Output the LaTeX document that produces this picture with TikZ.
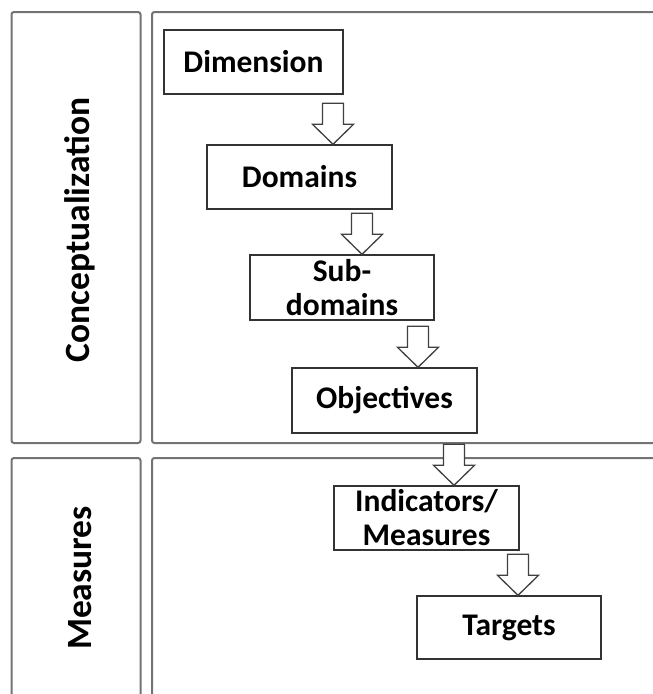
\documentclass[tikz,border=0pt]{standalone}
\usepackage{fontspec}
\setmainfont{Carlito}
\begin{document}
\begin{tikzpicture}[x=1pt,y=-1pt,
  panel/.style={draw=black!55,line width=2pt,rounded corners=2.5pt},
  stagebox/.style={draw=black!80,line width=1.4pt,fill=white,inner sep=0pt,
    align=center,font=\bfseries\fontsize{31.5}{34}\selectfont},
  paneltext/.style={rotate=90,inner sep=0pt,font=\bfseries\fontsize{35.5}{40}\selectfont},
  blockarrow/.pic={
    \draw[draw=black!75,line width=1.3pt,fill=white,line join=miter]
      (0,0) -- (-20.5,-20) -- (-10.5,-20) -- (-10.5,-41)
      -- (10.5,-41) -- (10.5,-20) -- (20.5,-20) -- cycle;
  }]
\useasboundingbox (0,0) rectangle (653,694);
\begin{scope}
\clip (0,0) rectangle (653,694);
% two horizontal bands, each with a label column and a content column
\draw[panel] (11.5,12) rectangle (140.5,443);
\draw[panel] (152,12) rectangle (680,443);
\draw[panel] (11.5,458) rectangle (140.5,720);
\draw[panel] (152,458) rectangle (680,720);
\end{scope}

\node[paneltext] (lconc) at (80,230) {Conceptualization};
\node[paneltext] (lmeas) at (80,578) {Measures};

% stages of the hierarchy
\node[stagebox,minimum width=179pt,minimum height=64pt] (dim) at (253.5,62) {Dimension};
\node[stagebox,minimum width=185pt,minimum height=64pt] (dom) at (299.5,177) {Domains};
\node[stagebox,minimum width=184pt,minimum height=65pt] (sub) at (342,287.5) {Sub-\\domains};
\node[stagebox,minimum width=185pt,minimum height=65pt] (obj) at (384.5,400.5) {Objectives};
\node[stagebox,minimum width=185pt,minimum height=64pt] (ind) at (426.5,518) {Indicators/\\Measures};
\node[stagebox,minimum width=184pt,minimum height=63pt] (tar) at (509,627.5) {Targets};

% hollow block arrows, tip resting on the next stage
\coordinate (t1) at (333,0 |- dom.north);
\coordinate (t2) at (362,0 |- sub.north);
\coordinate (t3) at (418,0 |- obj.north);
\coordinate (t4) at (454,0 |- ind.north);
\coordinate (t5) at (518,0 |- tar.north);
\pic at (t1) {blockarrow};
\pic at (t2) {blockarrow};
\pic at (t3) {blockarrow};
\pic at (t4) {blockarrow};
\pic at (t5) {blockarrow};
\end{tikzpicture}
\end{document}
